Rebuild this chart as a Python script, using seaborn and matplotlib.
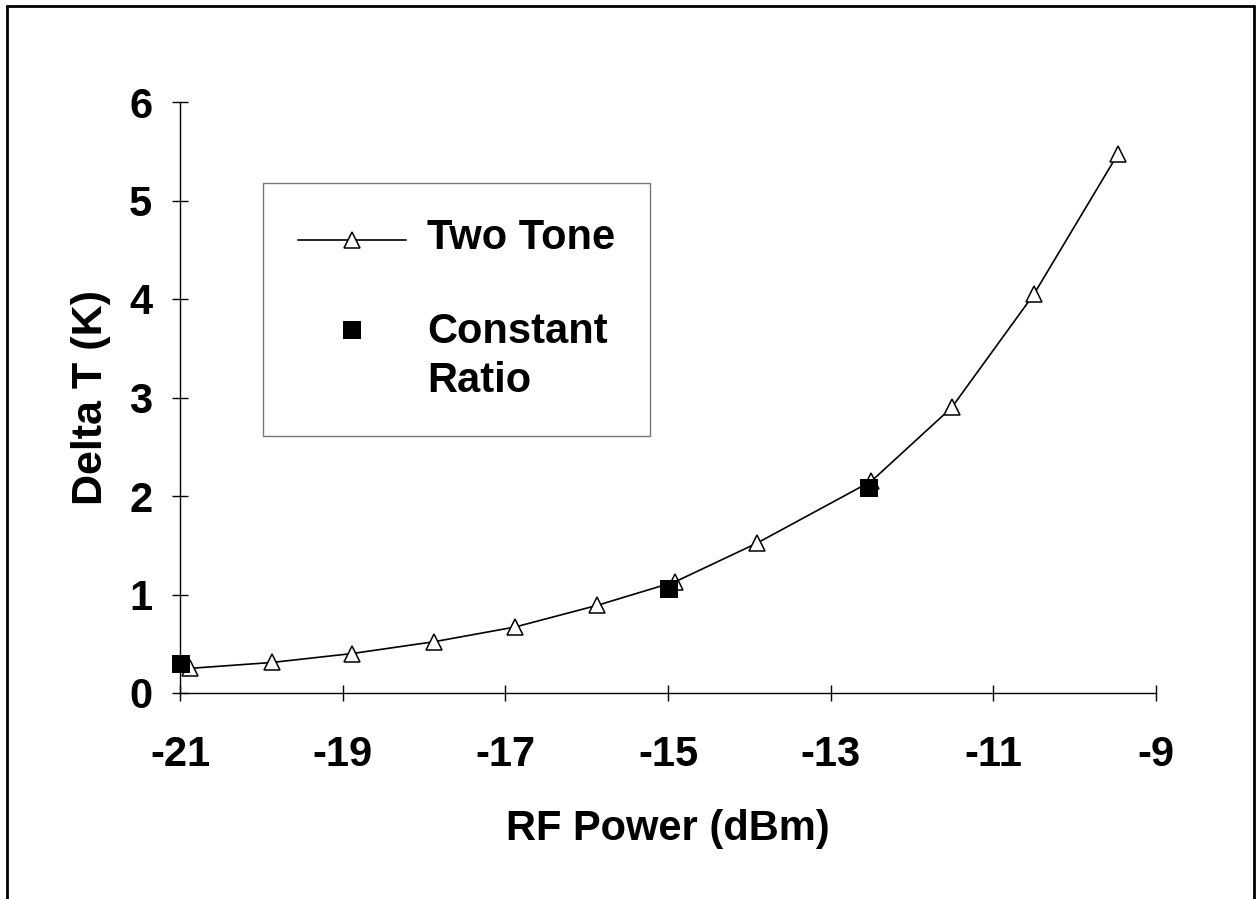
import matplotlib
matplotlib.use('Agg')
import matplotlib.pyplot as plt
import seaborn as sns
import pandas as pd

# Two Tone measurement
two_tone_power = [-20.88, -19.87, -18.89, -17.88, -16.88, -15.87, -14.91, -13.91, -12.50, -11.51, -10.50, -9.47]
two_tone_dt = [0.25, 0.31, 0.40, 0.52, 0.67, 0.89, 1.13, 1.52, 2.15, 2.90, 4.05, 5.47]

# Constant Ratio measurement
const_power = [-20.99, -14.99, -12.53]
const_dt = [0.29, 1.06, 2.08]

x_ticks = [-21, -19, -17, -15, -13, -11, -9]
y_ticks = [0, 1, 2, 3, 4, 5, 6]

two_tone = pd.DataFrame({'RF Power (dBm)': two_tone_power, 'Delta T (K)': two_tone_dt})
const = pd.DataFrame({'RF Power (dBm)': const_power, 'Delta T (K)': const_dt})

sns.set_style('white')
plt.rcParams['font.family'] = ['Liberation Sans', 'DejaVu Sans']
plt.rcParams['font.weight'] = 'bold'
plt.rcParams['text.color'] = 'black'
plt.rcParams['axes.labelcolor'] = 'black'
plt.rcParams['xtick.color'] = 'black'
plt.rcParams['ytick.color'] = 'black'

fig = plt.figure(figsize=(12.57, 8.99), dpi=100)
ax = fig.add_axes([180 / 1257, 1 - 693 / 899, 976 / 1257, 591 / 899])

sns.lineplot(data=two_tone, x='RF Power (dBm)', y='Delta T (K)', ax=ax,
             color='black', linewidth=1.2, marker='^', markersize=11,
             markerfacecolor='white', markeredgecolor='black', markeredgewidth=1.1,
             label='Two Tone', clip_on=False, zorder=3)
sns.scatterplot(data=const, x='RF Power (dBm)', y='Delta T (K)', ax=ax,
                color='black', marker='s', s=175, linewidth=0,
                label='Constant\nRatio', clip_on=False, zorder=4)

ax.set_xlim(-21, -9)
ax.set_ylim(0, 6)
ax.set_xticks(x_ticks)
ax.set_yticks(y_ticks)
ax.set_xticklabels([str(t) for t in x_ticks])

for side in ['top', 'right']:
    ax.spines[side].set_visible(False)
for side in ['left', 'bottom']:
    ax.spines[side].set_color('black')
    ax.spines[side].set_linewidth(1.0)

ax.tick_params(axis='both', direction='inout', length=12, width=1, color='black',
               labelsize=30, labelcolor='black', bottom=True, left=True)
ax.tick_params(axis='x', pad=24)
ax.tick_params(axis='y', pad=14)

ax.set_xlabel('RF Power (dBm)', fontsize=30, fontweight='bold', labelpad=25)
ax.set_ylabel('Delta T (K)', fontsize=31, fontweight='bold', labelpad=13)

leg = ax.legend(loc='upper left', bbox_to_anchor=(263 / 1257, 1 - 183 / 899),
                bbox_transform=fig.transFigure, borderaxespad=0, fontsize=30,
                frameon=True, fancybox=False, edgecolor='#555555', borderpad=0.84,
                handlelength=2.6, handleheight=0.36, handletextpad=0.5,
                labelspacing=1.3)
leg.get_frame().set_linewidth(1.0)
for t in leg.get_texts():
    t.set_fontweight('bold')
    t.set_color('black')
    t.set_linespacing(1.3)

# line handle centred on its label, square next to the first line of "Constant Ratio"
entries = [e for column in leg._legend_handle_box.get_children() for e in column.get_children()]
entries[0].align = 'center'
entries[1].align = 'top'

# outer frame around the chart (no bottom edge)
fig.add_artist(plt.Line2D([7 / 1257, 7 / 1257], [0, 1 - 6 / 899], transform=fig.transFigure, color='black', linewidth=2))
fig.add_artist(plt.Line2D([7 / 1257, 1254 / 1257], [1 - 6 / 899, 1 - 6 / 899], transform=fig.transFigure, color='black', linewidth=2))
fig.add_artist(plt.Line2D([1254 / 1257, 1254 / 1257], [0, 1 - 6 / 899], transform=fig.transFigure, color='black', linewidth=2))

plt.savefig('out.png', dpi=100)
